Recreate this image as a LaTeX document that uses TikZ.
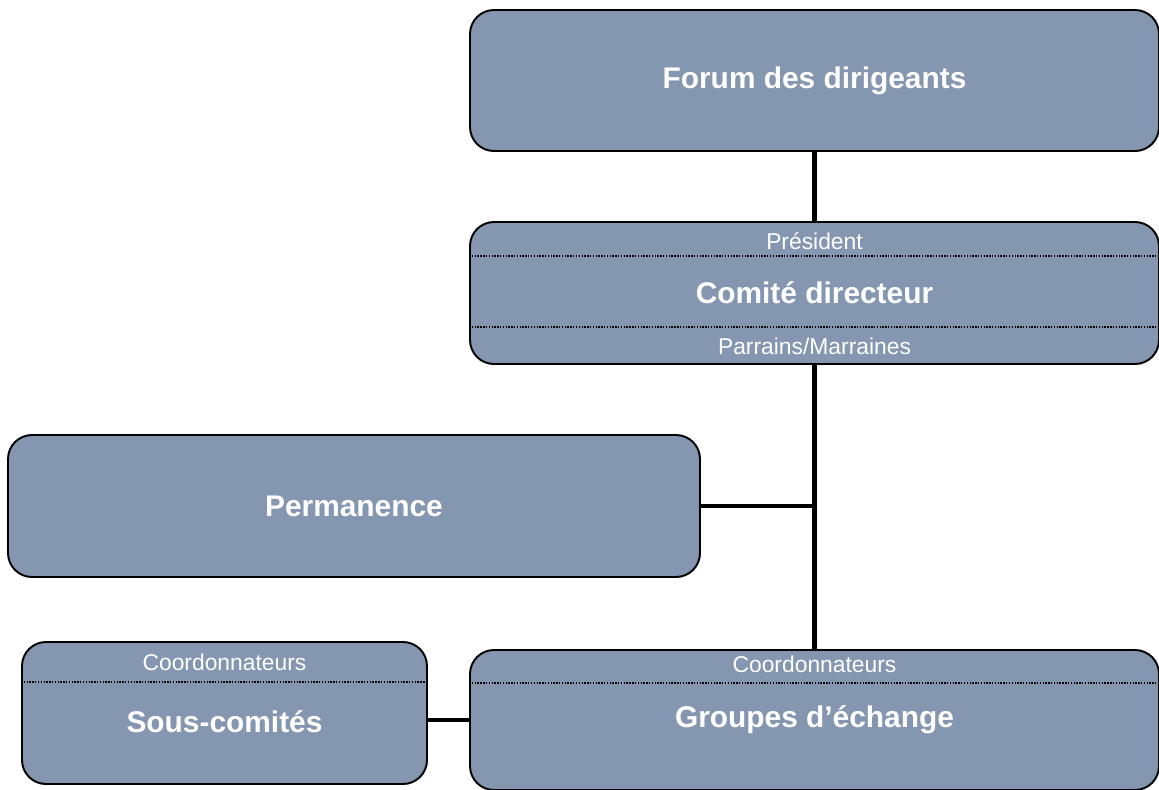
\documentclass[tikz,border=0pt]{standalone}
\usepackage{fontspec}
\setmainfont{Liberation Sans}
\usepackage{xcolor}
\definecolor{boxblue}{RGB}{132,150,176}

\begin{document}
\begin{tikzpicture}[
box/.style={draw=black,
line width=1.1pt,
fill=boxblue,
rectangle,
rounded corners=0.48cm,
text=white,
align=center,
font=\fontsize{17}{20}\selectfont\bfseries},
small/.style={text=white,
inner sep=0pt,
font=\fontsize{13}{15}\selectfont},
sep/.style={line width=0.8pt, dash pattern=on 0.8pt off 0.8pt},
link/.style={line width=2.8pt}
]
\useasboundingbox (0,0) rectangle (23.18,-15.78);

\node[box, minimum width=13.78cm, minimum height=2.82cm] (forum) at (16.29,-1.61) {Forum des dirigeants};
\node[box, minimum width=13.78cm, minimum height=2.84cm] (comite) at (16.29,-5.86) {Comité directeur};
\node[box, minimum width=13.84cm, minimum height=2.84cm] (perm) at (7.08,-10.12) {Permanence};
\node[box, minimum width=8.10cm, minimum height=2.84cm] (sous) at (4.49,-14.26) {\\[0.1cm]Sous-comités};
\node[box, minimum width=13.78cm, minimum height=2.80cm] (groupes) at (16.29,-14.40) {Groupes d’échange};

% small labels inside the boxes
\node[small] (president) at ([yshift=-0.40cm]comite.north) {Président};
\node[small] (parrains) at ([yshift=0.38cm]comite.south) {Parrains/Marraines};
\node[small] (coordsous) at ([yshift=-0.42cm]sous.north) {Coordonnateurs};
\node[small] (coordgr) at ([yshift=-0.30cm]groupes.north) {Coordonnateurs};

\draw[sep] ([yshift=-0.70cm]comite.north west) -- ([yshift=-0.70cm]comite.north east);
\draw[sep] ([yshift=0.76cm]comite.south west) -- ([yshift=0.76cm]comite.south east);
\draw[sep] ([yshift=-0.82cm]sous.north west) -- ([yshift=-0.82cm]sous.north east);
\draw[sep] ([yshift=-0.68cm]groupes.north west) -- ([yshift=-0.68cm]groupes.north east);

\draw[link] (forum) -- (comite);
\draw[link] (comite) -- (groupes);
\draw[link] (perm.east) -- (perm.east -| comite.south);
\draw[link] (groupes.west) -- (groupes.west -| sous.east);

\end{tikzpicture}
\end{document}
